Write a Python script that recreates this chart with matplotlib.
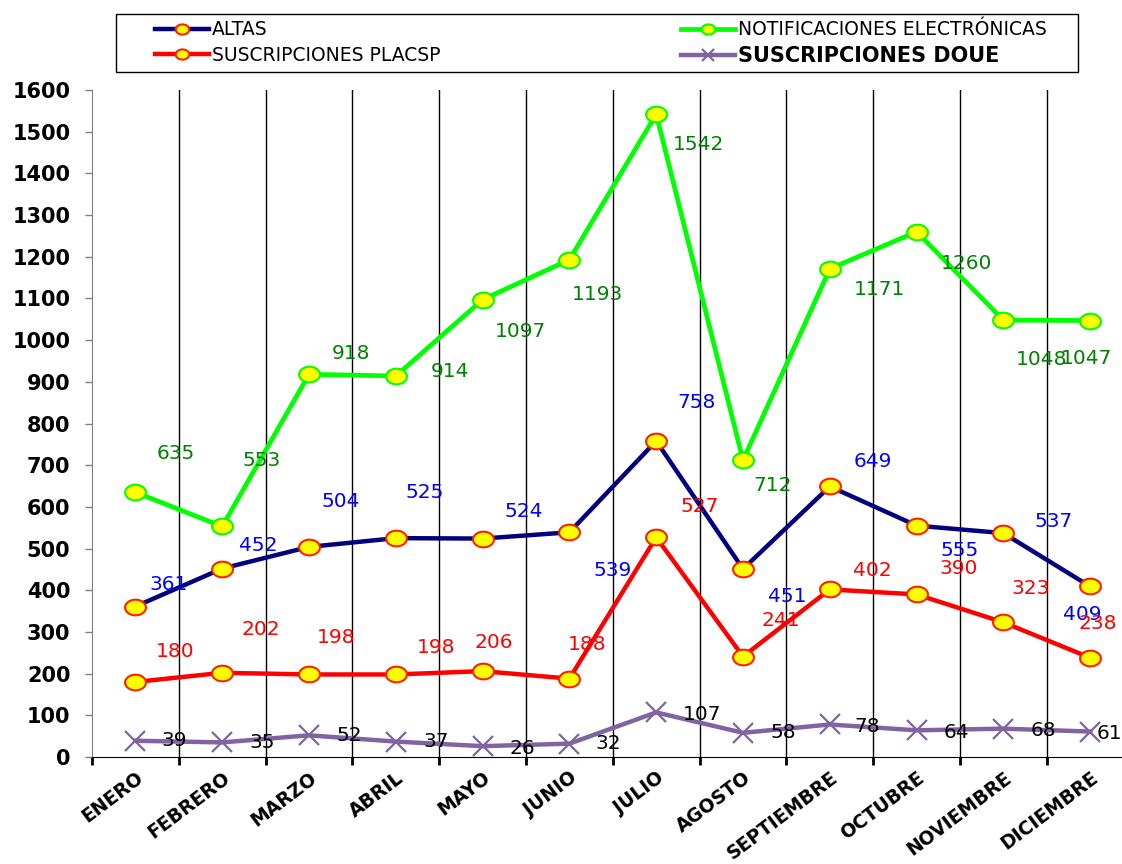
import numpy as np
import matplotlib
matplotlib.use("Agg")
import matplotlib.pyplot as plt
from matplotlib.path import Path
from matplotlib.patches import Rectangle

# datos mensuales
meses = ["ENERO", "FEBRERO", "MARZO", "ABRIL", "MAYO", "JUNIO", "JULIO",
         "AGOSTO", "SEPTIEMBRE", "OCTUBRE", "NOVIEMBRE", "DICIEMBRE"]
altas = [361, 452, 504, 525, 524, 539, 758, 451, 649, 555, 537, 409]
notificaciones = [635, 553, 918, 914, 1097, 1193, 1542, 712, 1171, 1260, 1048, 1047]
placsp = [180, 202, 198, 198, 206, 188, 527, 241, 402, 390, 323, 238]
doue = [39, 35, 52, 37, 26, 32, 107, 58, 78, 64, 68, 61]

# desplazamiento de las etiquetas de valor (pixeles, y hacia arriba)
off_altas = [(33, 22), (36, 23), (32, 45), (29, 46), (41, 27), (43, -38),
             (40, 39), (44, -28), (43, 25), (43, -25), (50, 12), (-8, -28)]
off_notif = [(40, 39), (39, 66), (42, 21), (54, 4), (38, -32), (28, -35),
             (42, -30), (30, -25), (50, -21), (50, -32), (38, -39), (-4, -38)]
off_placsp = [(40, 30), (39, 43), (27, 37), (40, 27), (11, 29), (18, 34),
              (43, 31), (38, 36), (43, 19), (42, 26), (27, 34), (8, 34)]
off_doue = [(39, 0), (40, 0), (40, 0), (40, 0), (40, -2), (39, 0),
            (46, -2), (40, 0), (37, -2), (40, -2), (40, -2), (19, -2)]

# circulo achatado como en la hoja de calculo
t = np.linspace(0, 2 * np.pi, 61)
elipse = Path(np.column_stack([1.33 * np.cos(t), np.sin(t)]), closed=True)

fig = plt.figure(figsize=(11.22, 8.64), dpi=100)
ax = fig.add_axes([92 / 1122, 107 / 864, 1041.6 / 1122, 667 / 864])

x = np.arange(len(meses))

for b in np.arange(0.5, len(meses) - 1, 1.0):
    ax.axvline(b, color="black", lw=1, zorder=1)

ax.plot(x, notificaciones, color="#00FF00", lw=3.4, marker=elipse, ms=15,
        mfc="#FFFF00", mec="#00FF00", mew=1.5, zorder=3,
        label="NOTIFICACIONES ELECTRÓNICAS")
ax.plot(x, altas, color="#000080", lw=3.2, marker=elipse, ms=15,
        mfc="#FFFF00", mec="#FF2000", mew=1.5, zorder=3, label="ALTAS")
ax.plot(x, placsp, color="#FF0000", lw=3.2, marker=elipse, ms=15,
        mfc="#FFFF00", mec="#FF2000", mew=1.5, zorder=3,
        label="SUSCRIPCIONES PLACSP")
ax.plot(x, doue, color="#8064A2", lw=3.2, marker="x", ms=14, mew=1.6,
        zorder=3, label="SUSCRIPCIONES DOUE")

series = [(altas, off_altas, "#0000FF"), (notificaciones, off_notif, "#008000"),
          (placsp, off_placsp, "#FF0000"), (doue, off_doue, "black")]
for vals, offs, col in series:
    for i, v in enumerate(vals):
        ax.annotate(str(v), (x[i], v), xytext=offs[i], textcoords="offset pixels",
                    ha="center", va="center", fontsize=14.5, color=col, zorder=5,
                    annotation_clip=False)

ax.set_xlim(-0.5, len(meses) - 0.5)
ax.set_ylim(0, 1600)
ax.set_yticks(np.arange(0, 1601, 100))
ax.tick_params(axis="y", direction="out", length=5, width=1, color="#808080",
               pad=10.5, labelsize=15)
for lab in ax.get_yticklabels():
    lab.set_fontweight("bold")

ax.set_xticks(x)
ax.set_xticklabels(meses, rotation=37, ha="right", va="top",
                   rotation_mode="anchor", fontsize=13.5, fontweight="bold")
ax.tick_params(axis="x", which="major", length=0, pad=8)
ax.set_xticks(np.arange(-0.5, len(meses), 1.0), minor=True)
ax.tick_params(axis="x", which="minor", direction="out", length=6, width=2,
               color="black")

ax.spines["top"].set_visible(False)
ax.spines["right"].set_visible(False)
ax.spines["left"].set_color("#808080")
ax.spines["bottom"].set_color("black")

# recuadro de la leyenda
fig.add_artist(Rectangle((116 / 1122, 1 - 72 / 864), 962 / 1122, 58 / 864,
                         transform=fig.transFigure, fill=False,
                         edgecolor="black", lw=1))

h, l = ax.get_legend_handles_labels()
orden = [1, 2, 0, 3]
leg = fig.legend([h[i] for i in orden], [l[i] for i in orden], ncol=2,
                 loc="center", mode="expand", frameon=False,
                 bbox_to_anchor=(155 / 1122, 1 - 72 / 864, 892 / 1122, 58 / 864),
                 fontsize=13.5, handlelength=2.9, markerscale=0.65,
                 borderaxespad=0, borderpad=0, labelspacing=0.35,
                 handletextpad=0.15)
leg.get_texts()[3].set_fontweight("bold")
leg.get_texts()[3].set_fontsize(15)

fig.savefig("out.png", dpi=100)
